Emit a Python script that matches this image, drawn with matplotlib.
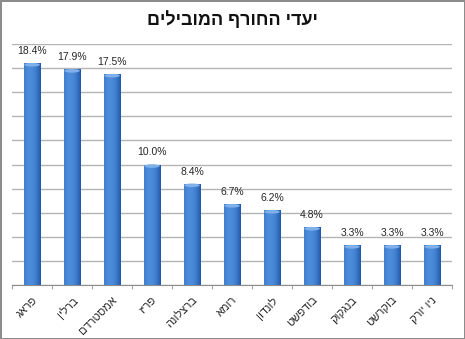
import numpy as np
import matplotlib
matplotlib.use("Agg")
import matplotlib.pyplot as plt
from matplotlib.patches import Ellipse
from matplotlib.ticker import MultipleLocator, FixedLocator

plt.rcParams['font.family'] = ['Liberation Sans', 'DejaVu Sans']

# top winter destinations, share in percent
title = "יעדי החורף המובילים"
cities = ["פראג", "ברלין", "אמסטרדם", "פריז", "ברצלונה", "רומא",
          "לונדון", "בודפשט", "בנגקוק", "בוקרשט", "ניו יורק"]
shares = [18.4, 17.9, 17.5, 10.0, 8.4, 6.7, 6.2, 4.8, 3.3, 3.3, 3.3]


def rtl(s):
    # matplotlib has no bidi support, flip hebrew for display
    return s[::-1]


fig = plt.figure(figsize=(4.65, 3.39), dpi=100)
fig.patch.set_edgecolor("#8c8c8c")
fig.patch.set_linewidth(2)
ax = fig.add_axes([0.026, 0.159, 0.946, 0.711])

x = np.arange(len(cities))
width = 0.42

# horizontal gradient for the cylinder look
g = np.linspace(0, 1, 64)
shade = np.clip(1 - ((g - 0.35) / 0.65) ** 2, 0, 1)
dark = np.array([0.12, 0.34, 0.66])
light = np.array([0.30, 0.55, 0.86])
img = (dark[None, :] + (light - dark)[None, :] * shade[:, None])[None, :, :]

bars = ax.bar(x, shares, width, color="#2f6cc0", zorder=2)
for b, v in zip(bars, shares):
    x0 = b.get_x()
    im = ax.imshow(img, extent=[x0, x0 + width, 0, v], aspect="auto",
                   zorder=3, interpolation="bilinear")
    im.set_clip_path(b)
    ax.add_patch(Ellipse((x0 + width / 2, v - 0.12), width * 0.92, 0.3,
                         color="#7fb0ea", zorder=4, lw=0))
    ax.text(x0 + width / 2, v + 0.6, f"{v:.1f}%", ha="center", va="bottom",
            fontsize=7.5, color="#262626")

ax.set_xlim(-0.5, len(cities) - 0.5)
ax.set_ylim(0, 20)
ax.yaxis.set_major_locator(MultipleLocator(2))
ax.yaxis.grid(True, color="#b4b4b4", lw=1.0, zorder=0)
ax.set_axisbelow(True)
ax.tick_params(axis="y", left=False, labelleft=False)

ax.set_xticks(x)
ax.set_xticklabels([rtl(c) for c in cities], rotation=45, ha="right",
                   va="top", rotation_mode="anchor", fontsize=8, color="#262626")
ax.tick_params(axis="x", which="major", length=0, pad=7)
ax.xaxis.set_minor_locator(FixedLocator(np.arange(len(cities) + 1) - 0.5))
ax.tick_params(axis="x", which="minor", length=3, color="#8c8c8c")

for s in ["left", "right", "top"]:
    ax.spines[s].set_visible(False)
ax.spines["bottom"].set_color("#8c8c8c")

fig.text(0.5, 0.94, rtl(title), ha="center", va="center", fontsize=13,
         fontweight="bold", color="#111111")

fig.savefig("out.png", dpi=100)
